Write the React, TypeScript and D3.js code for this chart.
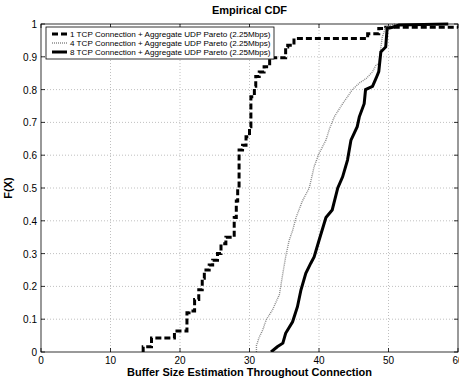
import React from "react";
import * as d3 from "d3";

// series 1: 1 TCP connection (step CDF)
const tcp1X = [14.6, 14.7, 15.9, 19.2, 21.0, 21.3, 22.1, 22.7, 23.2, 23.5, 24.2, 24.7, 25.4, 25.9, 26.6, 27.8, 28.1, 28.3, 28.5, 29.0, 29.5, 30.0, 30.2, 30.7, 30.9, 31.4, 32.1, 32.9, 35.2, 35.5, 36.4, 37.2, 47.0, 48.6, 49.6, 61];
const tcp1F = [0.0, 0.016, 0.043, 0.064, 0.12, 0.125, 0.16, 0.19, 0.225, 0.25, 0.265, 0.28, 0.30, 0.33, 0.35, 0.41, 0.46, 0.50, 0.616, 0.63, 0.656, 0.687, 0.778, 0.81, 0.84, 0.854, 0.87, 0.897, 0.93, 0.935, 0.956, 0.956, 0.97, 0.986, 0.99, 0.99];

// series 2: 4 TCP connections
const tcp4X = [31.0, 31.0, 31.4, 31.9, 32.4, 33.3, 34.3, 34.8, 35.2, 35.7, 36.2, 36.7, 37.6, 38.6, 39.3, 40.0, 41.0, 41.5, 42.2, 43.4, 44.1, 44.8, 45.8, 46.8, 47.7, 48.2, 48.6, 49.1, 49.6, 51.0];
const tcp4F = [0.0, 0.02, 0.045, 0.067, 0.098, 0.128, 0.175, 0.24, 0.29, 0.34, 0.37, 0.41, 0.46, 0.50, 0.565, 0.605, 0.646, 0.68, 0.717, 0.757, 0.778, 0.80, 0.82, 0.834, 0.854, 0.875, 0.88, 0.96, 0.99, 1.0];

// series 3: 8 TCP connections
const tcp8X = [33.1, 34.0, 34.8, 35.2, 36.2, 36.9, 37.4, 38.1, 38.8, 39.3, 40.0, 41.0, 41.9, 42.7, 43.4, 44.1, 44.6, 45.5, 45.8, 46.5, 46.7, 47.7, 48.2, 48.6, 48.9, 49.6, 49.8, 50.6, 51.5, 58.6];
const tcp8F = [0.0, 0.016, 0.027, 0.057, 0.092, 0.138, 0.189, 0.24, 0.27, 0.29, 0.34, 0.41, 0.433, 0.50, 0.534, 0.585, 0.646, 0.687, 0.717, 0.757, 0.80, 0.81, 0.834, 0.855, 0.915, 0.93, 0.986, 0.99, 0.997, 1.0];

const legendLabels = [
  "1 TCP Connection + Aggregate UDP Pareto (2.25Mbps)",
  "4 TCP Connection + Aggregate UDP Pareto (2.25Mbps)",
  "8 TCP Connection + Aggregate UDP Pareto (2.25Mbps)",
];
const xTicks = [0, 10, 20, 30, 40, 50, 60];
const yTicks = [0, 0.1, 0.2, 0.3, 0.4, 0.5, 0.6, 0.7, 0.8, 0.9, 1];

const W = 459, H = 380;
const left = 41, right = 458, top = 24, bottom = 352;
const font = "Liberation Sans, Arial, sans-serif";

const styles = [
  { stroke: "#000", width: 3, dash: "6,3" },
  { stroke: "#8a8a8a", width: 1.4, dash: "1,1" },
  { stroke: "#000", width: 3, dash: "" },
];

export default function App() {
  const x = d3.scaleLinear([0, 60], [left, right]);
  const y = d3.scaleLinear([0, 1], [bottom, top]);

  const pts = (xs: number[], fs: number[]) => xs.map((v, i) => [v, fs[i]] as [number, number]);
  const stepLine = d3.line<[number, number]>(d => x(d[0]), d => y(d[1])).curve(d3.curveStepAfter);
  const line = d3.line<[number, number]>(d => x(d[0]), d => y(d[1]));

  const paths = [
    stepLine(pts(tcp1X, tcp1F)),
    line(pts(tcp4X, tcp4F)),
    line(pts(tcp8X, tcp8F)),
  ];

  return (
    <svg width={W} height={H} style={{ position: "absolute", left: 0, top: 0 }} fontFamily={font}>
      <rect x={0} y={0} width={W} height={H} fill="#fff" />
      <clipPath id="plot">
        <rect x={left} y={top - 3} width={right - left} height={bottom - top + 3} />
      </clipPath>
      {/* grid */}
      <g stroke="#b0b0b0" strokeWidth={0.8} strokeDasharray="1,2">
        {xTicks.slice(1, -1).map(t => (
          <line key={"gx" + t} x1={x(t)} x2={x(t)} y1={top} y2={bottom} />
        ))}
        {yTicks.slice(1, -1).map(t => (
          <line key={"gy" + t} x1={left} x2={right} y1={y(t)} y2={y(t)} />
        ))}
      </g>
      {/* ticks */}
      <g stroke="#000" strokeWidth={0.8}>
        {xTicks.map(t => (
          <g key={"tx" + t}>
            <line x1={x(t)} x2={x(t)} y1={bottom} y2={bottom - 4} />
            <line x1={x(t)} x2={x(t)} y1={top} y2={top + 4} />
          </g>
        ))}
        {yTicks.map(t => (
          <g key={"ty" + t}>
            <line x1={left} x2={left + 4} y1={y(t)} y2={y(t)} />
            <line x1={right} x2={right - 4} y1={y(t)} y2={y(t)} />
          </g>
        ))}
      </g>
      {/* curves */}
      <g clipPath="url(#plot)" fill="none">
        {paths.map((d, i) => (
          <path key={i} d={d ?? ""} stroke={styles[i].stroke} strokeWidth={styles[i].width}
            strokeDasharray={styles[i].dash || undefined} />
        ))}
      </g>
      <rect x={left} y={top} width={right - left} height={bottom - top} fill="none" stroke="#000" strokeWidth={0.8} />
      {/* tick labels */}
      <g fontSize={10} fill="#000">
        {xTicks.map(t => (
          <text key={"lx" + t} x={x(t)} y={bottom + 12} textAnchor="middle">{t}</text>
        ))}
        {yTicks.map(t => (
          <text key={"ly" + t} x={left - 4} y={y(t) + 4} textAnchor="end">{t}</text>
        ))}
      </g>
      <text x={(left + right) / 2} y={14} textAnchor="middle" fontSize={11} fontWeight="bold">Empirical CDF</text>
      <text x={(left + right) / 2} y={376} textAnchor="middle" fontSize={11} fontWeight="bold">Buffer Size Estimation Throughout Connection</text>
      <text transform={`translate(12,${(top + bottom) / 2}) rotate(-90)`} textAnchor="middle" fontSize={11} fontWeight="bold">F(X)</text>
      {/* legend */}
      <g>
        <rect x={46} y={27} width={228} height={32} fill="#fff" stroke="#000" strokeWidth={0.8} />
        {legendLabels.map((s, i) => (
          <g key={s} transform={`translate(0,${34 + i * 9})`}>
            <line x1={52} x2={67} y1={0} y2={0} stroke={styles[i].stroke} strokeWidth={styles[i].width}
              strokeDasharray={styles[i].dash || undefined} />
            <text x={70} y={3} fontSize={8.1}>{s}</text>
          </g>
        ))}
      </g>
    </svg>
  );
}
